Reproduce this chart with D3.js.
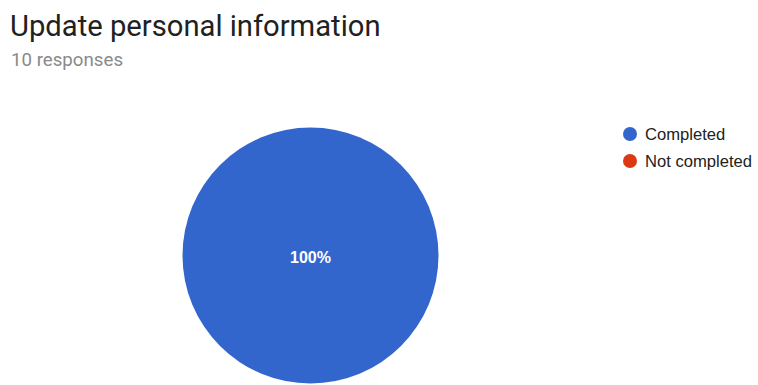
<!DOCTYPE html>
<html><head><meta charset="utf-8">
<script src="https://cdn.jsdelivr.net/npm/d3@7"></script>
<style>html,body{margin:0;padding:0;background:#fff;overflow:hidden}</style>
</head><body><svg id="c" width="758" height="385"></svg>
<script>
const title = "Update personal information";
const subtitle = "10 responses";
const categories = ["Completed", "Not completed"];
const values = [10, 0];
const colors = ["#3366cc", "#dc3912"];

const svg = d3.select("#c");
svg.append("text").attr("x", 10).attr("y", 36)
  .style("font-family", "Roboto").style("font-size", "29.2px").attr("fill", "#212121").text(title);
svg.append("text").attr("x", 11).attr("y", 66)
  .style("font-family", "Roboto").style("font-size", "18.7px").attr("fill", "#8a8a8a").text(subtitle);

const cx = 310.5, cy = 255.5, r = 128;
const total = d3.sum(values);
const pie = d3.pie().sort(null).value(d => d)(values);
const arc = d3.arc().innerRadius(0).outerRadius(r);
const g = svg.append("g").attr("transform", `translate(${cx},${cy})`);
g.selectAll("path").data(pie).join("path")
  .attr("d", arc).attr("fill", (d, i) => colors[i])
  .attr("stroke", d => d.value > 0 && d.endAngle - d.startAngle < 2*Math.PI - 1e-6 ? "#fff" : "none");
const fmt = d3.format(".0%");
g.selectAll("text.lbl").data(pie.filter(d => d.value > 0)).join("text")
  .attr("class", "lbl")
  .attr("transform", d => (d.endAngle - d.startAngle) >= 2*Math.PI - 1e-6 ? "translate(0,2)" : `translate(${d3.arc().innerRadius(r*0.6).outerRadius(r*0.6).centroid(d)})`)
  .attr("text-anchor", "middle").attr("dy", "0.35em")
  .style("font-family", "Liberation Sans, Arial").style("font-size", "16px").style("font-weight", "bold")
  .attr("fill", "#fff").text(d => fmt(d.value / total));

const leg = svg.append("g");
const y = d3.scaleBand().domain(categories).range([120.5, 174.5]);
categories.forEach((c, i) => {
  const yy = y(c) + y.bandwidth() / 2;
  leg.append("circle").attr("cx", 630).attr("cy", yy).attr("r", 7).attr("fill", colors[i]);
  leg.append("text").attr("x", 645).attr("y", yy).attr("dy", "0.35em")
    .style("font-family", "Liberation Sans, Arial").style("font-size", "16.6px").attr("fill", "#222").text(c);
});
</script></body></html>
